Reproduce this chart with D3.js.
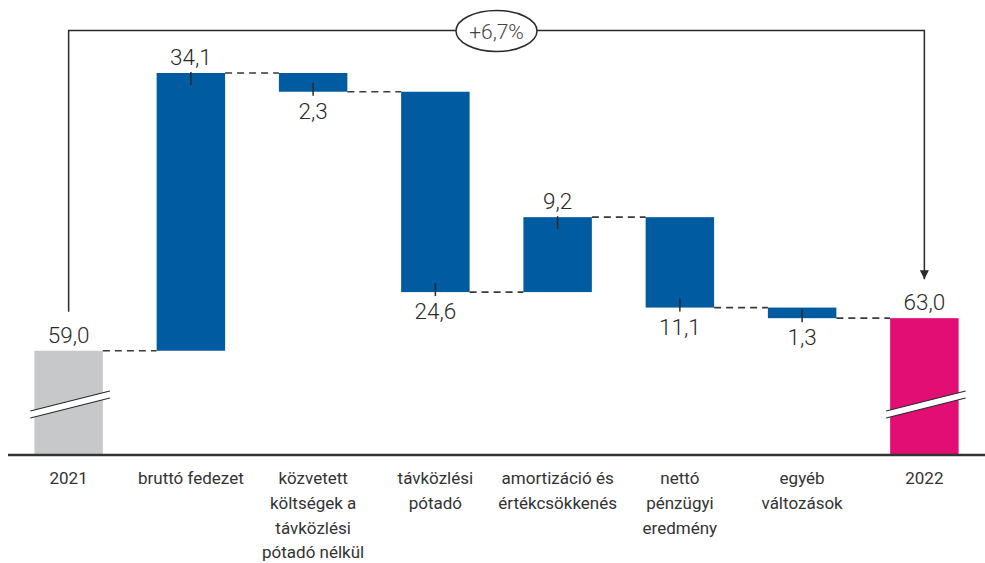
<!DOCTYPE html>
<html>
<head>
<meta charset="utf-8">
<script src="https://cdn.jsdelivr.net/npm/d3@7"></script>
<style>
  body { margin: 0; background: #fff; }
  svg { display: block; font-family: Roboto, "Noto Sans", sans-serif; }
</style>
</head>
<body>
<svg id="svg" width="985" height="563"></svg>
<script>
// categories, one array of lines per bar
var categories = [
    ["2021"],
    ["bruttó fedezet"],
    ["közvetett", "költségek a", "távközlési", "pótadó nélkül"],
    ["távközlési", "pótadó"],
    ["amortizáció és", "értékcsökkenés"],
    ["nettó", "pénzügyi", "eredmény"],
    ["egyéb", "változások"],
    ["2022"]
];
var startValue = 59.0;
var changes = [34.1, -2.3, -24.6, 9.2, -11.1, -1.3];
var endValue = 63.0;
var totalChangeLabel = "+6,7%";
var axisFloor = 46.2; // broken axis, bars start here

var blue = "#005ba1", grey = "#c7c8ca", magenta = "#e20e74", ink = "#2a2a2a";

// build waterfall rows
var rows = [];
rows.push({i: 0, lo: axisFloor, hi: startValue, val: startValue, kind: "total", color: grey});
var run = startValue;
changes.forEach(function (c, k) {
    var from = run;
    run = +(run + c).toFixed(2);
    rows.push({i: k + 1, lo: Math.min(from, run), hi: Math.max(from, run), val: c, from: from, to: run, kind: "change", color: blue});
});
rows.push({i: rows.length, lo: axisFloor, hi: endValue, val: endValue, kind: "total", color: magenta});

var fmt = d3.formatLocale({decimal: ",", thousands: " ", grouping: [3], currency: ["", ""]}).format(".1f");

var svg = d3.select("svg");
var baseY = 455;

var x = d3.scaleBand()
    .domain(d3.range(rows.length))
    .range([7.5, 985.5])
    .paddingInner(0.44)
    .paddingOuter(0.22);

var y = d3.scaleLinear()
    .domain([axisFloor, d3.max(rows, function (d) { return d.hi; })])
    .range([baseY, 73]);

var bw = x.bandwidth();
function cx(i) { return x(i) + bw / 2; }

// bars
svg.append("g").selectAll("rect")
    .data(rows)
    .enter().append("rect")
    .attr("x", function (d) { return x(d.i); })
    .attr("y", function (d) { return y(d.hi); })
    .attr("width", bw)
    .attr("height", function (d) { return y(d.lo) - y(d.hi); })
    .attr("fill", function (d) { return d.color; });

// dashed connectors between bars
var levels = rows.map(function (d) { return d.kind === "total" ? d.hi : d.to; });
svg.append("g").selectAll("line")
    .data(rows.slice(0, rows.length - 1))
    .enter().append("line")
    .attr("x1", function (d) { return x(d.i) + bw; })
    .attr("x2", function (d) { return x(d.i + 1); })
    .attr("y1", function (d) { return y(levels[d.i]); })
    .attr("y2", function (d) { return y(levels[d.i]); })
    .attr("stroke", "#3a3a3a")
    .attr("stroke-width", 1.6)
    .attr("stroke-dasharray", "7,5");

// small ticks on change bars
var changeRows = rows.filter(function (d) { return d.kind === "change"; });
svg.append("g").selectAll("line")
    .data(changeRows)
    .enter().append("line")
    .attr("x1", function (d) { return cx(d.i); })
    .attr("x2", function (d) { return cx(d.i); })
    .attr("y1", function (d) { return d.val > 0 ? y(d.hi) - 1 : y(d.lo) - 9; })
    .attr("y2", function (d) { return d.val > 0 ? y(d.hi) + 12 : y(d.lo) + 4; })
    .attr("stroke", ink)
    .attr("stroke-width", 1.5);

// value labels
svg.append("g").selectAll("text")
    .data(rows)
    .enter().append("text")
    .attr("x", function (d) { return cx(d.i); })
    .attr("y", function (d) {
        if (d.kind === "change" && d.val < 0) return y(d.lo) + 27;
        return y(d.hi) - 8;
    })
    .attr("text-anchor", "middle")
    .attr("font-size", "22.5px")
    .attr("font-weight", 300)
    .attr("fill", ink)
    .text(function (d) { return fmt(Math.abs(d.val)); });

// axis break marks on the total bars
var breaks = svg.append("g");
rows.filter(function (d) { return d.kind === "total"; }).forEach(function (d) {
    var x0 = x(d.i) - 4, x1 = x(d.i) + bw + 7;
    var yc = baseY - 51;
    var rise = 20;
    var pts = [[x0, yc + rise / 2], [x1, yc - rise / 2]];
    breaks.append("path")
        .attr("d", "M" + pts[0][0] + "," + (pts[0][1] - 3) + "L" + pts[1][0] + "," + (pts[1][1] - 3)
            + "L" + pts[1][0] + "," + (pts[1][1] + 4) + "L" + pts[0][0] + "," + (pts[0][1] + 4) + "Z")
        .attr("fill", "#fff");
    [-3, 4].forEach(function (off) {
        breaks.append("line")
            .attr("x1", pts[0][0]).attr("y1", pts[0][1] + off)
            .attr("x2", pts[1][0]).attr("y2", pts[1][1] + off)
            .attr("stroke", ink)
            .attr("stroke-width", 1.2);
    });
});

// baseline
svg.append("line")
    .attr("x1", 8).attr("x2", 985)
    .attr("y1", baseY).attr("y2", baseY)
    .attr("stroke", "#333")
    .attr("stroke-width", 2.5);

// category labels
var cat = svg.append("g").selectAll("text")
    .data(rows)
    .enter().append("text")
    .attr("text-anchor", "middle")
    .attr("font-size", "17px")
    .attr("fill", "#333");
cat.each(function (d) {
    var t = d3.select(this);
    categories[d.i].forEach(function (line, j) {
        t.append("tspan")
            .attr("x", cx(d.i))
            .attr("y", 484 + j * 24.8)
            .text(line);
    });
});

// bracket with total change
var bracketY = 30.5;
var lx = cx(0), rx = cx(rows.length - 1);
svg.append("defs").append("marker")
    .attr("id", "arrow")
    .attr("viewBox", "0 -5 10 10")
    .attr("refX", 10)
    .attr("refY", 0)
    .attr("markerWidth", 9)
    .attr("markerHeight", 9)
    .attr("markerUnits", "userSpaceOnUse")
    .attr("orient", "auto")
    .append("path")
    .attr("d", "M0,-5L10,0L0,5Z")
    .attr("fill", ink);

svg.append("path")
    .attr("d", "M" + lx + "," + (y(startValue) - 39) + "L" + lx + "," + bracketY
        + "L" + rx + "," + bracketY + "L" + rx + "," + (y(endValue) - 39))
    .attr("fill", "none")
    .attr("stroke", ink)
    .attr("stroke-width", 1.5)
    .attr("marker-end", "url(#arrow)");

var mid = (lx + rx) / 2;
svg.append("ellipse")
    .attr("cx", mid).attr("cy", bracketY + 0.5)
    .attr("rx", 40.5).attr("ry", 20.5)
    .attr("fill", "#fff")
    .attr("stroke", ink)
    .attr("stroke-width", 1.5);
svg.append("text")
    .attr("x", mid).attr("y", bracketY + 8)
    .attr("text-anchor", "middle")
    .attr("font-size", "21px")
    .attr("font-weight", 300)
    .attr("fill", "#444")
    .text(totalChangeLabel);
</script>
</body>
</html>
